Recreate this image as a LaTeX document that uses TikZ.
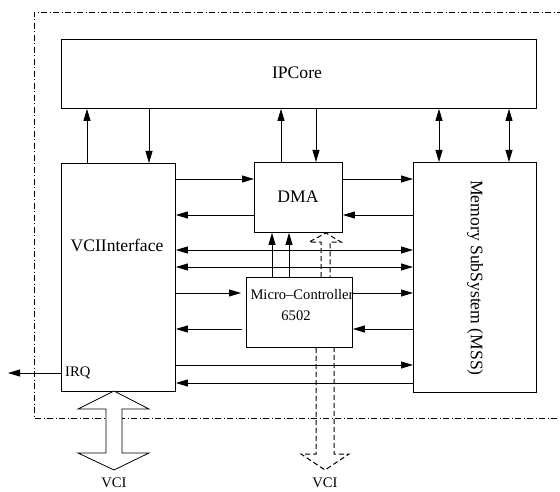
\documentclass[tikz,border=0pt]{standalone}
\usepackage{fontspec}
\setmainfont{Liberation Serif}
\usetikzlibrary{arrows.meta}
\begin{document}
\begin{tikzpicture}[x=1pt,y=-1pt,
  box/.style={draw, line width=0.9pt, inner sep=0pt, anchor=north west},
  arr/.style={line width=0.8pt, -{Triangle[length=12pt,width=7pt]}},
  darr/.style={line width=0.8pt, {Triangle[length=12pt,width=7pt]}-{Triangle[length=12pt,width=7pt]}},
  big/.style={font=\fontsize{17.6}{20}\selectfont, inner sep=0pt},
  small/.style={font=\fontsize{14.6}{17}\selectfont, inner sep=0pt},
  dbus/.style={line width=1pt, dash pattern=on 5pt off 3pt},
  frame/.style={line width=0.8pt, dash pattern=on 6pt off 2.5pt on 1pt off 2.5pt}]
\useasboundingbox (0,0) rectangle (560,492);
% outer dash-dot frame
\draw[frame] (575,12) -- (34,12) -- (34,418) -- (575,418);
% boxes
\node[box, minimum width=475pt, minimum height=69pt] (ip) at (61,39) {};
\node[big] (iptext) at (297,73) {IPCore};
\node[box, minimum width=114pt, minimum height=228pt] (vci) at (61,163) {};
\node[big] (vcitext) at (117,245) {VCIInterface};
\node[box, minimum width=88pt, minimum height=70pt] (dma) at (254,162) {};
\node[big] (dmatext) at (298,197) {DMA};
\node[box, minimum width=123pt, minimum height=230pt] (mss) at (413,162) {};
\node[big, rotate=-90] (msstext) at (475,278) {Memory SubSystem (MSS)};
\node[box, minimum width=106pt, minimum height=70pt, fill=white] (mc) at (246,277) {};
\node[small] (mct1) at (302,295) {Micro–Controller};
\node[small] (mct2) at (296,316) {6502};
\node[small, anchor=west] (irq) at (65,373) {IRQ};
\coordinate (irqout) at (8,373);
\node[small] (vcil) at (114,483) {VCI};
\node[small] (vcir) at (325,483) {VCI};
% vertical arrows to IPCore
\draw[arr] (vci.north -| 87,0) -- (ip.south -| 87,0);
\draw[arr] (ip.south -| 149,0) -- (vci.north -| 149,0);
\draw[arr] (dma.north -| 281,0) -- (ip.south -| 281,0);
\draw[arr] (ip.south -| 316,0) -- (dma.north -| 316,0);
\draw[darr] (ip.south -| 439,0) -- (mss.north -| 439,0);
\draw[darr] (ip.south -| 509,0) -- (mss.north -| 509,0);
% MC to DMA
\draw[arr] (mc.north -| 272,0) -- (dma.south -| 272,0);
\draw[arr] (mc.north -| 289,0) -- (dma.south -| 289,0);
% horizontal arrows
\draw[arr] (vci.east |- 0,179) -- (dma.west |- 0,179);
\draw[arr] (dma.east |- 0,179) -- (mss.west |- 0,179);
\draw[arr] (dma.west |- 0,215) -- (vci.east |- 0,215);
\draw[arr] (mss.west |- 0,215) -- (dma.east |- 0,215);
\draw[darr] (vci.east |- 0,250) -- (mss.west |- 0,250);
\draw[darr] (vci.east |- 0,267) -- (mss.west |- 0,267);
\coordinate (mcin) at (241,293);
\coordinate (mcout) at (242,329);
\draw[arr] (vci.east |- 0,293) -- (mcin);
\draw[arr] (mc.east |- 0,293) -- (mss.west |- 0,293);
\draw[arr] (mcout) -- (vci.east |- 0,329);
\draw[arr] (mss.west |- 0,329) -- (mc.east |- 0,329);
\draw[arr] (vci.east |- 0,365) -- (mss.west |- 0,365);
\draw[arr] (mss.west |- 0,383) -- (vci.east |- 0,383);
\draw[arr] (vci.west |- irqout) -- (irqout);
% left VCI block double arrow
\draw[line width=0.8pt, fill=white] (114,391) -- (149,409) -- (122,409) -- (122,453) -- (149,453) -- (114,470) -- (78,453) -- (106,453) -- (106,409) -- (78,409) -- cycle;
% dashed bus arrows
\draw[dbus] (mc.north -| 321,0) -- (321,242) -- (309,242) -- (326,233) -- (341,242) -- (330,242) -- (mc.north -| 330,0);
\draw[dbus] (mc.south -| 316,0) -- (316,454) -- (301,454) -- (325,470) -- (349,454) -- (334,454) -- (mc.south -| 334,0);
\end{tikzpicture}
\end{document}
